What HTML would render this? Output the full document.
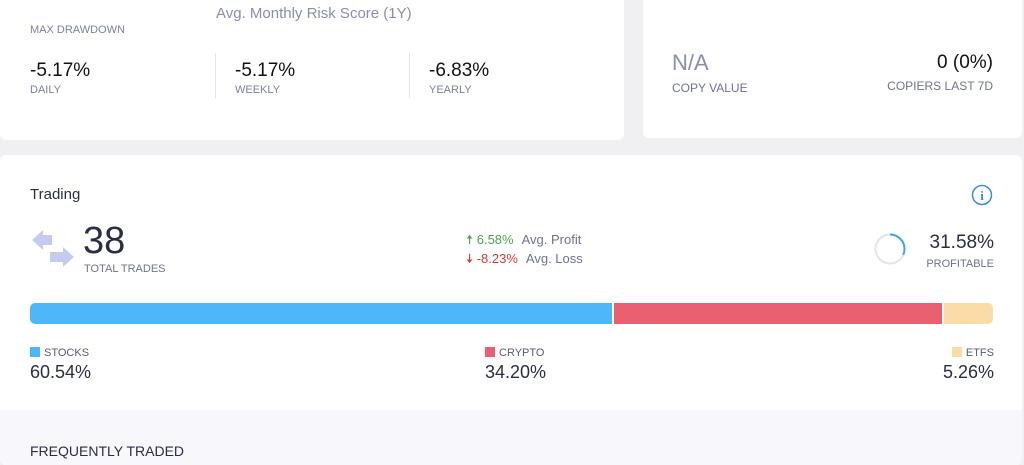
<!DOCTYPE html>
<html><head><style>
body{margin:0;width:1024px;height:458px;background:#f0f0f2;font-family:"Liberation Sans",sans-serif;overflow:hidden;position:relative}
.card{position:absolute;background:#fff;border-radius:6px}
.a{position:absolute;white-space:nowrap}
.lbl{font-size:11px;color:#7d80a0}
.big{font-size:19px;color:#111;}
</style></head><body>
<div class="card" style="left:0;top:-10px;width:624px;height:150px"></div>
<div class="card" style="left:643px;top:-10px;width:379px;height:148px"></div>
<div class="card" style="left:0;top:155px;width:1022px;height:310px;overflow:hidden">
 <div style="position:absolute;left:0;top:255px;width:1022px;height:60px;background:#f8f7fc"></div>
</div>
<div class="a" style="left:216px;top:5px;font-size:15px;color:#8a8dab">Avg. Monthly Risk Score (1Y)</div>
<div class="a lbl" style="left:30px;top:24px">MAX DRAWDOWN</div>
<div class="a big" style="left:30px;top:60px">-5.17%</div>
<div class="a lbl" style="left:30px;top:84px">DAILY</div>
<div class="a" style="left:215px;top:53px;width:1px;height:45px;background:#e2e2e8"></div>
<div class="a big" style="left:235px;top:60px">-5.17%</div>
<div class="a lbl" style="left:235px;top:84px">WEEKLY</div>
<div class="a" style="left:409px;top:53px;width:1px;height:45px;background:#e2e2e8"></div>
<div class="a big" style="left:429px;top:60px">-6.83%</div>
<div class="a lbl" style="left:429px;top:84px">YEARLY</div>

<div class="a" style="left:672px;top:50px;font-size:22px;color:#8a8dab">N/A</div>
<div class="a" style="left:672px;top:81px;font-size:12px;color:#6f7290">COPY VALUE</div>
<div class="a" style="right:31px;top:52px;font-size:19px;color:#111">0 (0%)</div>
<div class="a" style="right:31px;top:79px;font-size:12px;color:#6f7290">COPIERS LAST 7D</div>

<div class="a" style="left:30px;top:186px;font-size:15px;color:#2a2d45">Trading</div>
<svg class="a" style="left:970px;top:184px" width="24" height="22"><circle cx="12" cy="11" r="9.5" fill="none" stroke="#3b8fd6" stroke-width="1.5"/><text x="12" y="16" text-anchor="middle" font-size="13" font-weight="bold" fill="#3b8fd6" font-family="Liberation Serif">i</text></svg>
<svg class="a" style="left:32px;top:229px" width="44" height="40"><path d="M0 11 L11 1 V6 H20 V16 H11 V21Z M42 28 L31 18 V23 H18 V33 H31 V38Z" fill="#c5cbee"/></svg>
<div class="a" style="left:83px;top:220px;font-size:38px;color:#2a2d45">38</div>
<div class="a lbl" style="left:84px;top:263px;color:#6f7290">TOTAL TRADES</div>
<div class="a" style="left:466px;top:231px;font-size:13px;color:#4aa84a">🠅 6.58%<span style="color:#6f7290;margin-left:8px">Avg. Profit</span></div>
<div class="a" style="left:466px;top:250px;font-size:13px;color:#d63c3c">🠇 -8.23%<span style="color:#6f7290;margin-left:8px">Avg. Loss</span></div>
<svg class="a" style="left:873px;top:232px" width="34" height="34"><circle cx="17" cy="17" r="14.5" fill="none" stroke="#e3e4ee" stroke-width="2"/><circle cx="17" cy="17" r="14.5" fill="none" stroke="#3aa9e8" stroke-width="2" stroke-dasharray="28.8 100" transform="rotate(-90 17 17)"/></svg>
<div class="a" style="right:30px;top:232px;font-size:19px;color:#2a2d45">31.58%</div>
<div class="a lbl" style="right:30px;top:258px;color:#6f7290">PROFITABLE</div>

<div class="a" style="left:30px;top:303px;width:963px;height:21px;border-radius:5px;overflow:hidden;display:flex">
 <div style="width:582px;background:#4db8f8;margin-right:2px"></div>
 <div style="width:328px;background:#ea6070;margin-right:2px"></div>
 <div style="flex:1;background:#fbdca8"></div>
</div>
<div class="a lbl" style="left:30px;top:347px;color:#555a78"><span style="display:inline-block;width:10px;height:10px;background:#4db8f8;margin-right:4px;vertical-align:-1px"></span>STOCKS</div>
<div class="a" style="left:30px;top:362px;font-size:18px;color:#2a2d45">60.54%</div>
<div class="a lbl" style="left:485px;top:347px;color:#555a78"><span style="display:inline-block;width:10px;height:10px;background:#ea6070;margin-right:4px;vertical-align:-1px"></span>CRYPTO</div>
<div class="a" style="left:485px;top:362px;font-size:18px;color:#2a2d45">34.20%</div>
<div class="a lbl" style="right:30px;top:347px;color:#555a78"><span style="display:inline-block;width:10px;height:10px;background:#fbdca8;margin-right:4px;vertical-align:-1px"></span>ETFS</div>
<div class="a" style="right:30px;top:362px;font-size:18px;color:#2a2d45">5.26%</div>
<div class="a" style="left:30px;top:443px;font-size:14px;color:#2a2d45">FREQUENTLY TRADED</div>
</body></html>
